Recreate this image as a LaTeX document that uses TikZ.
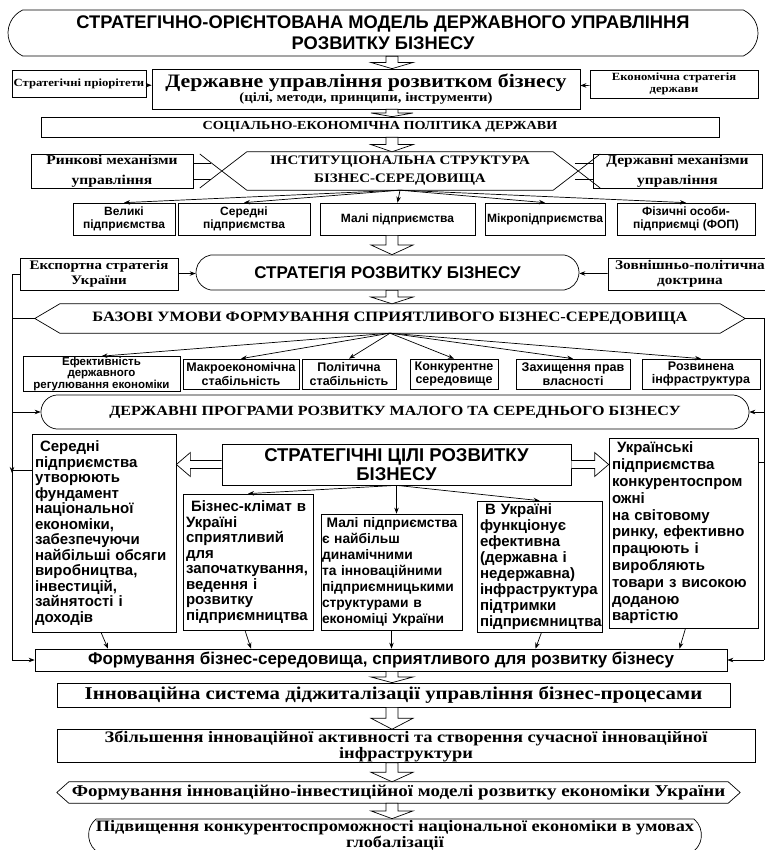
\documentclass[tikz,border=0pt]{standalone}
\usepackage{fontspec}
\setmainfont{Liberation Serif}[FakeStretch=1.15]
\setsansfont{Liberation Sans}
\usetikzlibrary{shapes.misc,arrows.meta,calc}

\newcommand{\fs}[2]{\fontsize{#1}{#2}\selectfont}
% wide hollow arrow from one node down to the next, at a given x
\newcommand{\blockdown}[3]{%
  \draw[blockarrow] let \p1=(#2.south), \p2=(#3.north), \p3=($(#2.south)!0.5!(#3.north)$) in
    ({#1pt-6pt},\y1) -- ({#1pt+6pt},\y1) -- ({#1pt+6pt},\y3) -- ({#1pt+21pt},\y3)
    -- (#1pt,\y2) -- ({#1pt-21pt},\y3) -- ({#1pt-6pt},\y3) -- cycle;}
% six-sided frame round a text node
\newcommand{\hexframe}[2]{%
  \draw[thinline] (#1.west) -- ([xshift=#2]#1.north west) -- ([xshift=-#2]#1.north east)
    -- (#1.east) -- ([xshift=-#2]#1.south east) -- ([xshift=#2]#1.south west) -- cycle;}

\begin{document}
\begin{tikzpicture}[x=1pt,y=-1pt,
thinline/.style={line width=0.7pt},
box/.style={draw,thinline,fill=white,inner sep=1pt,align=center},
stadium/.style={box,rounded rectangle,rounded rectangle arc length=#1},
textonly/.style={inner sep=0pt,align=center},
tb/.style 2 args={font=\bfseries\fs{#1}{#2}},
sb/.style 2 args={font=\sffamily\bfseries\fs{#1}{#2}},
goalbox/.style={draw,thinline,align=left,inner xsep=3pt,inner ysep=1pt,font=\sffamily\bfseries\fs{15}{15.5}},
arr/.style={thinline,-{Stealth[length=6pt,width=4.5pt]}},
blockarrow/.style={thinline,fill=white}]

\useasboundingbox (0,0) rectangle (764,850);

% heading
\node[stadium=130, minimum width=752pt, minimum height=46pt, sb={18.3}{21}] (title) at (383,33)
  {СТРАТЕГІЧНО-ОРІЄНТОВАНА МОДЕЛЬ ДЕРЖАВНОГО УПРАВЛІННЯ\\РОЗВИТКУ БІЗНЕСУ};

% state management
\node[box, minimum width=134pt, minimum height=27pt, tb={11}{13}] (prio) at (79,84) {Стратегічні пріорітети};
\node[box, minimum width=428pt, minimum height=40pt, font=\bfseries] (gov) at (366,89)
  {{\fs{19}{20}Державне управління розвитком бізнесу}\\{\fs{12.8}{17}(цілі, методи, принципи, інструменти)}};
\node[box, minimum width=168pt, minimum height=28pt, tb={11}{12}] (econ) at (674,84) {Економічна стратегія\\держави};
\draw[arr] (prio) -- (gov);
\draw[arr] (econ) -- (gov);

\node[box, minimum width=678pt, minimum height=20pt, tb={12.3}{15}] (policy) at (380,127) {СОЦІАЛЬНО-ЕКОНОМІЧНА ПОЛІТИКА ДЕРЖАВИ};

% institutional structure
\node[textonly, minimum width=356pt, minimum height=38pt, tb={13}{18}] (inst) at (400,171) {ІНСТИТУЦІОНАЛЬНА СТРУКТУРА\\БІЗНЕС-СЕРЕДОВИЩА};
\hexframe{inst}{25pt}
\node[box, minimum width=162pt, minimum height=33pt, tb={13.5}{20}] (market) at (112,171.5) {Ринкові механізми\\управління};
\node[box, minimum width=169pt, minimum height=33pt, tb={13.5}{20}] (statemech) at (677.5,171.5) {Державні механізми\\управління};
\draw[thinline] (inst.west) -- +(-22,17) (inst.west) -- +(-22,-17);
\draw[thinline] (inst.east) -- +(22,17) (inst.east) -- +(22,-17);
\draw[thinline] ([yshift=8pt]market.east) -- ++(18,0) ([yshift=-8pt]market.east) -- ++(18,0);
\draw[thinline] ([yshift=8pt]statemech.west) -- ++(-18,0) ([yshift=-8pt]statemech.west) -- ++(-18,0);

\node[box, minimum width=102pt, minimum height=32pt, sb={12}{13.5}] (bigent) at (124,219) {Великі\\підприємства};
\node[box, minimum width=132pt, minimum height=32pt, sb={12}{13.5}] (mident) at (244,219) {Середні\\підприємства};
\node[box, minimum width=155pt, minimum height=32pt, sb={12}{13.5}] (smallent) at (397.5,219) {Малі підприємства};
\node[box, minimum width=120pt, minimum height=32pt, sb={12}{13.5}] (microent) at (545,219) {Мікропідприємства};
\node[box, minimum width=138pt, minimum height=32pt, sb={12}{13.5}] (fopent) at (686,219) {Фізичні особи-\\підприємці (ФОП)};
\foreach \n in {bigent,mident,smallent,microent,fopent}
  \draw[arr] (inst.south) -- (\n.north);

% strategy
\node[box, minimum width=158pt, minimum height=32pt, tb={13}{15}] (export) at (99,274) {Експортна стратегія\\України};
\node[stadium=160, minimum width=385pt, minimum height=35pt, sb={17}{19}] (strategy) at (387.5,272.5) {СТРАТЕГІЯ РОЗВИТКУ БІЗНЕСУ};
\node[box, minimum width=164pt, minimum height=32pt, tb={13.3}{15}] (foreign) at (690,274) {Зовнішньо-політична\\доктрина};
\draw[arr] (export) -- (strategy);
\draw[arr] (foreign) -- (strategy);

\node[textonly, minimum width=710pt, minimum height=29pt, tb={14.3}{16}] (basic) at (390,318.5) {БАЗОВІ УМОВИ ФОРМУВАННЯ СПРИЯТЛИВОГО БІЗНЕС-СЕРЕДОВИЩА};
\hexframe{basic}{25pt}

\node[box, minimum width=157pt, minimum height=30pt, sb={11.5}{10.5}] (eff) at (101.5,374) {Ефективність\\державного\\регулювання економіки};
\node[box, minimum width=116pt, minimum height=30pt, sb={12.5}{13.5}] (macro) at (241,374) {Макроекономічна\\стабільність};
\node[box, minimum width=94pt, minimum height=30pt, sb={12.5}{13.5}] (pol) at (349,374) {Політична\\стабільність};
\node[box, minimum width=88pt, minimum height=30pt, sb={12.5}{13.5}] (comp) at (454,374) {Конкурентне\\середовище};
\node[box, minimum width=114pt, minimum height=30pt, sb={12.5}{13.5}] (prop) at (573,374) {Захищення прав\\власності};
\node[box, minimum width=118pt, minimum height=30pt, sb={12.5}{13.5}] (infra) at (701,374) {Розвинена\\інфраструктура};
\foreach \n in {eff,macro,pol,comp,prop,infra}
  \draw[arr] (basic.south) -- (\n.north);

\node[stadium=170, minimum width=710pt, minimum height=34pt, tb={14}{16}] (programs) at (395,412) {ДЕРЖАВНІ ПРОГРАМИ РОЗВИТКУ МАЛОГО ТА СЕРЕДНЬОГО БІЗНЕСУ};

% goals
\node[box, minimum width=349pt, minimum height=41pt, sb={18.5}{19}] (goals) at (396.5,464.5) {СТРАТЕГІЧНІ ЦІЛІ РОЗВИТКУ\\БІЗНЕСУ};
\node[goalbox, text width=138pt, minimum height=198pt] (midfound) at (104,533)
  {\ Середні\\підприємства\\утворюють\\фундамент\\національної\\економіки,\\забезпечуючи\\найбільші обсяги\\виробництва,\\інвестицій,\\зайнятості і\\доходів};
\node[goalbox, text width=143pt, minimum height=190pt, font=\sffamily\bfseries\fs{15}{16.8}] (ukr) at (683.5,533)
  {\ Українські\\підприємства\\конкурентоспром\\ожні\\на світовому\\ринку, ефективно\\працюють і\\виробляють\\товари з високою\\доданою\\вартістю};
\node[goalbox, text width=124pt, minimum height=136pt] (climate) at (248,562)
  {\ Бізнес-клімат в\\Україні\\сприятливий\\для\\започаткування,\\ведення і\\розвитку\\підприємництва};
\node[goalbox, text width=139pt, inner xsep=1pt, minimum height=116pt, font=\sffamily\bfseries\fs{13.8}{16}] (dyn) at (391.5,572)
  {\ Малі підприємства\\є найбільш\\динамічними\\та інноваційними\\підприємницькими\\структурами в\\економіці України};
\node[goalbox, text width=119pt, minimum height=131pt, font=\sffamily\bfseries\fs{15}{16}] (support) at (539.5,566.5)
  {\ В Україні\\функціонує\\ефективна\\(державна і\\недержавна)\\інфраструктура\\підтримки\\підприємництва};
\draw[arr] (goals.south) -- (climate.north);
\draw[arr] (goals.south) -- (goals.south |- dyn.north);
\draw[arr] (goals.south) -- (support.north);
\draw[blockarrow] let \p1=(goals.west), \p2=(midfound.east) in
  (\x1,{\y1+4pt}) -- ({\x2+14pt},{\y1+4pt}) -- ({\x2+14pt},{\y1+12pt}) -- (\x2,\y1)
  -- ({\x2+14pt},{\y1-12pt}) -- ({\x2+14pt},{\y1-4pt}) -- (\x1,{\y1-4pt});
\draw[blockarrow] let \p1=(goals.east), \p2=(ukr.west) in
  (\x1,{\y1+4pt}) -- ({\x2-14pt},{\y1+4pt}) -- ({\x2-14pt},{\y1+12pt}) -- (\x2,\y1)
  -- ({\x2-14pt},{\y1-12pt}) -- ({\x2-14pt},{\y1-4pt}) -- (\x1,{\y1-4pt});

% results
\node[box, minimum width=692pt, minimum height=22pt, sb={17}{19}] (form) at (381,660) {Формування бізнес-середовища, сприятливого для розвитку бізнесу};
\draw[arr] ([xshift=-3pt]midfound.south) -- ([xshift=4pt]midfound.south |- form.north);
\draw[arr] ([xshift=-3pt]climate.south) -- ([xshift=3pt]climate.south |- form.north);
\draw[arr] (dyn.south) -- (dyn.south |- form.north);
\draw[arr] ([xshift=2pt]support.south) -- ([xshift=-4pt]support.south |- form.north);
\draw[arr] ([xshift=2pt]ukr.south) -- ([xshift=-4pt]ukr.south |- form.north);

\node[box, minimum width=673pt, minimum height=24pt, tb={18.1}{21}] (innov) at (393.5,695) {Інноваційна система діджиталізації управління бізнес-процесами};
\node[box, minimum width=698pt, minimum height=32pt, tb={16}{16}] (growth) at (406,746) {Збільшення інноваційної активності та створення сучасної інноваційної\\інфраструктури};
\node[textonly, minimum width=683pt, minimum height=21pt, tb={16.5}{18}] (model) at (398.5,792.5) {Формування інноваційно-інвестиційної моделі розвитку економіки України};
\hexframe{model}{12pt}
\node[stadium=100, minimum width=610pt, minimum height=32pt, tb={15.9}{16}] (final) at (395,835) {Підвищення конкурентоспроможності національної економіки в умовах\\глобалізації};

% side lines
\coordinate (lx) at (12,0);
\coordinate (rx) at (764,0);
\coordinate (lj) at (12,470);
\coordinate (rj) at (764,462);
\draw[arr] (export.west) -- (export.west -| lx) |- (form.west);
\draw[thinline] (basic.west) -- (basic.west -| lx);
\draw[arr] (programs.west -| lx) -- (programs.west);
\draw[thinline] (lj -| midfound.west) -- (lj);
\draw[arr] ([yshift=8pt]lj) -- ([yshift=-3pt]lj);
\draw[thinline] (basic.east) -- (basic.east -| rx) -- (rx |- form.east);
\draw[arr] (rx |- form.east) -- (form.east);
\draw[arr] (rx |- programs.east) -- (programs.east);
\draw[thinline] (rj -| ukr.east) -- (rj);

% hollow arrows
\blockdown{392}{title}{gov}
\blockdown{392}{gov}{policy}
\blockdown{392}{policy}{inst}
\blockdown{392}{smallent}{strategy}
\blockdown{392}{strategy}{basic}
\blockdown{392}{form}{innov}
\blockdown{392}{innov}{growth}
\blockdown{392}{growth}{model}
\blockdown{392}{model}{final}
\end{tikzpicture}
\end{document}
